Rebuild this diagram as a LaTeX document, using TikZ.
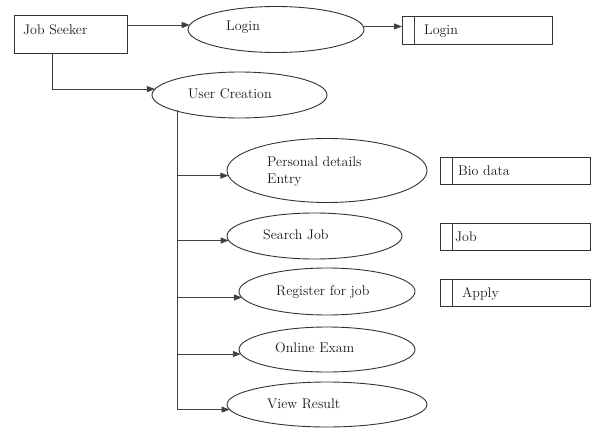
\documentclass[tikz,border=0pt]{standalone}
\usetikzlibrary{shapes.geometric,arrows.meta}
\begin{document}
\begin{tikzpicture}[x=1pt,y=-1pt,
  line/.style={draw=black!75, line width=0.9pt},
  arr/.style={line, -{Triangle[length=8pt,width=6pt]}},
  oval/.style={ellipse, draw=black!80, line width=0.9pt, inner sep=0pt, outer sep=0pt},
  box/.style={rectangle, draw=black!80, line width=0.9pt, inner sep=0pt, outer sep=0pt},
  lbl/.style={anchor=base west, inner sep=0pt, font=\fontsize{14}{16}\selectfont, text=black!90}]
\useasboundingbox (0,0) rectangle (591,428);

% nodes
\node[box, minimum width=113pt, minimum height=38pt] (js) at (70.5,34) {};
\node[oval, minimum width=176pt, minimum height=46pt] (lg) at (276,29.5) {};
\node[box, minimum width=150pt, minimum height=28pt] (lb) at (477,30) {};
\node[oval, minimum width=175pt, minimum height=46pt] (uc) at (239.5,95) {};
\node[oval, minimum width=200pt, minimum height=64pt] (pd) at (327,170.5) {};
\node[oval, minimum width=175pt, minimum height=46pt] (sj) at (314.5,236) {};
\node[oval, minimum width=176pt, minimum height=47pt] (rj) at (327,291.5) {};
\node[oval, minimum width=176pt, minimum height=45pt] (oe) at (327,349.5) {};
\node[oval, minimum width=200pt, minimum height=45pt] (vr) at (327,404.5) {};
\node[box, minimum width=150pt, minimum height=27pt] (bd) at (515,170.5) {};
\node[box, minimum width=150pt, minimum height=27pt] (jb) at (515,236.5) {};
\node[box, minimum width=150pt, minimum height=27pt] (ap) at (515,292.5) {};

% inner lines of the stores
\foreach \n in {lb,bd,jb,ap}
  \draw[line] ([xshift=12pt]\n.north west) -- ([xshift=12pt]\n.south west);

% labels
\node[lbl] (t1) at (23,35) {Job Seeker};
\node[lbl] (t2) at (226,31) {Login};
\node[lbl] (t3) at (424,35) {Login};
\node[lbl] (t4) at (188,98) {User Creation};
\node[lbl] (t5) at (267,166) {Personal details};
\node[lbl] (t6) at (267,183) {Entry};
\node[lbl] (t7) at (263,239) {Search Job};
\node[lbl] (t8) at (276,295) {Register for job};
\node[lbl] (t9) at (275,352) {Online Exam};
\node[lbl] (t10) at (267,408) {View Result};
\node[lbl] (t11) at (458,175) {Bio data};
\node[lbl] (t12) at (455,241) {Job};
\node[lbl] (t13) at (462,297) {Apply};

% connectors
\coordinate (jsd) at (52,53);
\coordinate (tr) at (177,110);
\draw[arr] (js.east |- lg.177.4) -- (lg.177.4);
\draw[arr] (lg.2.6) -- (lb.west |- lg.2.6);
\draw[arr] (jsd) |- (uc.176.6);
\draw[line] (tr) -- (tr |- vr.183.2);
\draw[arr] (tr |- pd.183.2) -- (pd.183.2);
\draw[arr] (tr |- sj.183.4) -- (sj.183.4);
\draw[arr] (tr |- rj.184.4) -- (rj.184.4);
\draw[arr] (tr |- oe.183) -- (oe.183);
\draw[arr] (tr |- vr.183.2) -- (vr.183.2);
\end{tikzpicture}
\end{document}
